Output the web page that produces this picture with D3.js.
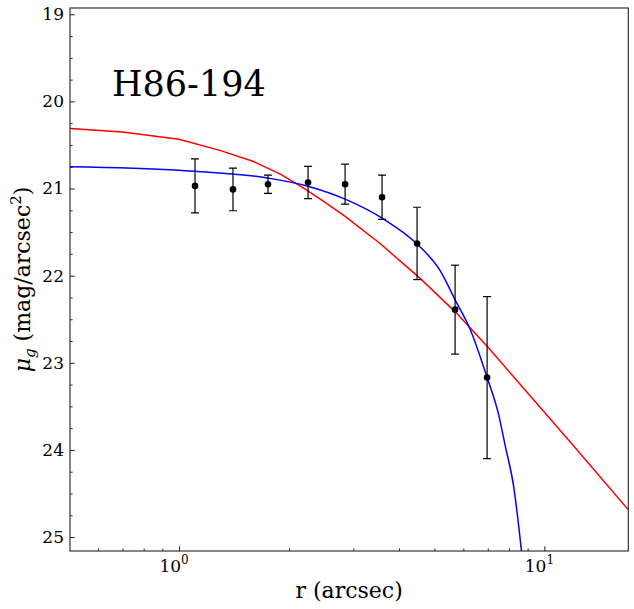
<!DOCTYPE html>
<html><head><meta charset="utf-8">
<script src="https://cdn.jsdelivr.net/npm/d3@7"></script>
<style>body{margin:0;background:#fff}</style>
</head><body>
<script>
// Data
const obsR   = [1.106, 1.405, 1.752, 2.255, 2.848, 3.595, 4.483, 5.696, 6.97];
const obsMu  = [20.97, 21.01, 20.95, 20.93, 20.95, 21.10, 21.63, 22.39, 23.17];
const obsErr = [0.31, 0.245, 0.105, 0.185, 0.23, 0.255, 0.415, 0.51, 0.93];

const redR  = [0.5, 0.7, 1.0, 1.3, 1.6, 1.9, 2.2, 2.5, 2.85, 3.55, 4.57, 5.73, 6.96, 9.14, 12.0, 17.0];
const redMu = [20.31, 20.35, 20.435, 20.565, 20.69, 20.838, 20.999, 21.152, 21.32, 21.631, 22.031, 22.424, 22.808, 23.377, 23.95, 24.69];

const blueR  = [0.5, 1.0, 1.75, 2.24, 2.88, 3.63, 4.52, 5.18, 5.70, 6.27, 6.96, 7.5, 7.82, 8.24, 8.66, 8.8];
const blueMu = [20.75, 20.79, 20.88, 20.97, 21.13, 21.35, 21.65, 21.94, 22.28, 22.62, 23.16, 23.6, 23.96, 24.42, 25.17, 25.45];

const yTicks = [19, 20, 21, 22, 23, 24, 25];
const xTicks = [1, 10];
const title = "H86-194";

const W = 634, H = 609;
const m = {l: 70, t: 8, r: 5.7, b: 58};
const pw = W - m.l - m.r, ph = H - m.t - m.b;
const SERIF = "'DejaVu Serif', serif";

const svg = d3.select("body").append("svg").attr("width", W).attr("height", H)
  .style("font-family", SERIF);
const g = svg.append("g").attr("transform", `translate(${m.l},${m.t})`);

const x = d3.scaleLog().domain([0.503, 16.97]).range([0, pw]);
const y = d3.scaleLinear().domain([18.928, 25.16]).range([0, ph]);

g.append("clipPath").attr("id", "clip").append("rect").attr("width", pw).attr("height", ph);

const line = d3.line().x(d => x(d[0])).y(d => y(d[1]));
const plot = g.append("g").attr("clip-path", "url(#clip)");
plot.append("path").datum(redR.map((r, i) => [r, redMu[i]]))
  .attr("d", line).attr("fill", "none").attr("stroke", "#ff0000").attr("stroke-width", 1.5);
plot.append("path").datum(blueR.map((r, i) => [r, blueMu[i]]))
  .attr("d", d3.line().x(d => x(d[0])).y(d => y(d[1])).curve(d3.curveMonotoneX))
  .attr("fill", "none").attr("stroke", "#0000ff").attr("stroke-width", 1.5);

// error bars
const pts = obsR.map((r, i) => ({r, mu: obsMu[i], e: obsErr[i]}));
const eb = plot.append("g").attr("stroke", "#000").attr("stroke-width", 1.2);
pts.forEach(p => {
  const cx = x(p.r), y1 = y(p.mu - p.e), y2 = y(p.mu + p.e);
  eb.append("line").attr("x1", cx).attr("x2", cx).attr("y1", y1).attr("y2", y2);
  eb.append("line").attr("x1", cx - 4).attr("x2", cx + 4).attr("y1", y1).attr("y2", y1);
  eb.append("line").attr("x1", cx - 4).attr("x2", cx + 4).attr("y1", y2).attr("y2", y2);
});
plot.selectAll("circle.pt").data(pts).join("circle").attr("class", "pt")
  .attr("cx", d => x(d.r)).attr("cy", d => y(d.mu)).attr("r", 3.3).attr("fill", "#000");

// axes
const yMinor = d3.range(19, 25.01, 0.25).filter(v => Math.abs(v - Math.round(v)) > 1e-6);
const yAx = g.append("g").call(d3.axisLeft(y).tickValues(yTicks).tickSize(-4.7).tickPadding(6).tickFormat(d3.format("d")));
yAx.attr("font-family", SERIF);
yAx.select(".domain").remove();
yAx.selectAll("text").attr("font-size", 17).attr("fill", "#000");
yAx.selectAll(".tick line").attr("stroke", "#000").attr("stroke-width", 0.9);
const yAxm = g.append("g").call(d3.axisLeft(y).tickValues(yMinor).tickSize(-2.7).tickFormat(""));
yAxm.select(".domain").remove();
yAxm.selectAll(".tick line").attr("stroke", "#000").attr("stroke-width", 0.8);

const xMinor = [0.6, 0.7, 0.8, 0.9, 2, 3, 4, 5, 6, 7, 8, 9];
const xAx = g.append("g").attr("transform", `translate(0,${ph})`)
  .call(d3.axisBottom(x).tickValues(xTicks).tickSize(-4.7).tickFormat(""));
xAx.select(".domain").remove();
xAx.selectAll(".tick line").attr("stroke", "#000").attr("stroke-width", 0.9);
const xAxm = g.append("g").attr("transform", `translate(0,${ph})`)
  .call(d3.axisBottom(x).tickValues(xMinor).tickSize(-2.7).tickFormat(""));
xAxm.select(".domain").remove();
xAxm.selectAll(".tick line").attr("stroke", "#000").attr("stroke-width", 0.8);

// x tick labels 10^n
xTicks.forEach(v => {
  const t = g.append("text").attr("x", x(v) - 5).attr("y", ph + 20.5)
    .attr("text-anchor", "middle").attr("font-size", 17).attr("fill", "#000");
  t.append("tspan").text("10");
  t.append("tspan").attr("dy", -8).attr("font-size", 12).text(String(Math.round(Math.log10(v))));
});

// frame
g.append("rect").attr("width", pw).attr("height", ph).attr("fill", "none")
  .attr("stroke", "#222").attr("stroke-width", 1.1);

// title
g.append("text").attr("x", 112 - m.l).attr("y", 96 - m.t).attr("font-size", 35).attr("fill", "#000").text(title);

// axis labels
svg.append("text").attr("x", m.l + pw / 2).attr("y", 598).attr("text-anchor", "middle")
  .attr("font-size", 22).attr("fill", "#000").text("r (arcsec)");
const yl = svg.append("text").attr("transform", `translate(30,${m.t + ph / 2}) rotate(-90)`)
  .attr("text-anchor", "middle").attr("font-size", 22).attr("fill", "#000");
yl.append("tspan").attr("font-style", "italic").text("μ");
yl.append("tspan").attr("font-style", "italic").attr("font-size", 15).attr("dy", 5).text("g");
yl.append("tspan").attr("dy", -5).text(" (mag/arcsec");
yl.append("tspan").attr("font-size", 15).attr("dy", -9).text("2");
yl.append("tspan").attr("dy", 9).text(")");
</script>
</body></html>
